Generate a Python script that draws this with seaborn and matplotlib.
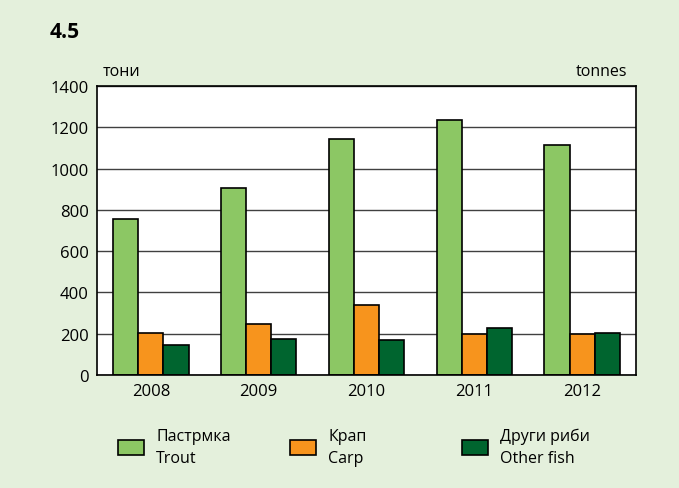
import pandas as pd
import seaborn as sns
import matplotlib.pyplot as plt

years = ["2008", "2009", "2010", "2011", "2012"]
trout = [756, 908, 1144, 1235, 1113]
carp = [205, 245, 339, 197, 200]
other = [144, 174, 171, 227, 205]
series = ["Пастрмка\nTrout", "Крап\nCarp", "Други риби\nOther fish"]
colors = ["#8CC764", "#F7941D", "#00652F"]

da = pd.DataFrame({
    "year": years * 3,
    "value": trout + carp + other,
    "kind": [series[0]] * 5 + [series[1]] * 5 + [series[2]] * 5,
})

sns.set_style("white")
plt.rcParams["font.family"] = ["Open Sans", "DejaVu Sans"]
plt.rcParams["text.color"] = "black"

bg = "#E4F0DC"
fig = plt.figure(figsize=(6.79, 4.89), dpi=100, facecolor=bg)
ax = fig.add_axes([97 / 679, 1 - 376 / 489, 539 / 679, 289 / 489])
ax.set_facecolor("white")

sns.barplot(data=da, x="year", y="value", hue="kind", palette=colors,
            width=0.7, gap=0, edgecolor="black", linewidth=1.2,
            saturation=1, ax=ax, legend=False)

ax.set_ylim(0, 1400)
ax.set_yticks(range(0, 1401, 200))
ax.yaxis.grid(True, color="#404040", linewidth=1)
ax.set_axisbelow(True)
for s in ax.spines.values():
    s.set_color("black")
    s.set_linewidth(1.2)
ax.tick_params(axis="both", length=0, labelsize=12, pad=6, labelcolor="black")
ax.set_xlabel("")
ax.set_ylabel("")

fig.text(50 / 679, 1 - 32 / 489, "4.5", fontsize=15, fontweight="bold", va="center")
fig.text(103 / 679, 1 - 72 / 489, "тони", fontsize=11.5, va="center")
fig.text(627 / 679, 1 - 72 / 489, "tonnes", fontsize=11.5, va="center", ha="right")

# one legend per entry so they sit at even spacing
xs = [118, 290, 462]
for x, lab, c in zip(xs, series, colors):
    h = plt.Rectangle((0, 0), 1, 1, facecolor=c, edgecolor="black", linewidth=1.2)
    leg = fig.legend([h], [lab], loc="center left", bbox_to_anchor=(x / 679, 1 - 448 / 489),
                     frameon=False, fontsize=11.5, handlelength=1.6, handleheight=1.0,
                     handletextpad=0.8, borderpad=0, borderaxespad=0)
    for t in leg.get_texts():
        t.set_linespacing(1.55)

plt.savefig("out.png", dpi=100, facecolor=bg)
